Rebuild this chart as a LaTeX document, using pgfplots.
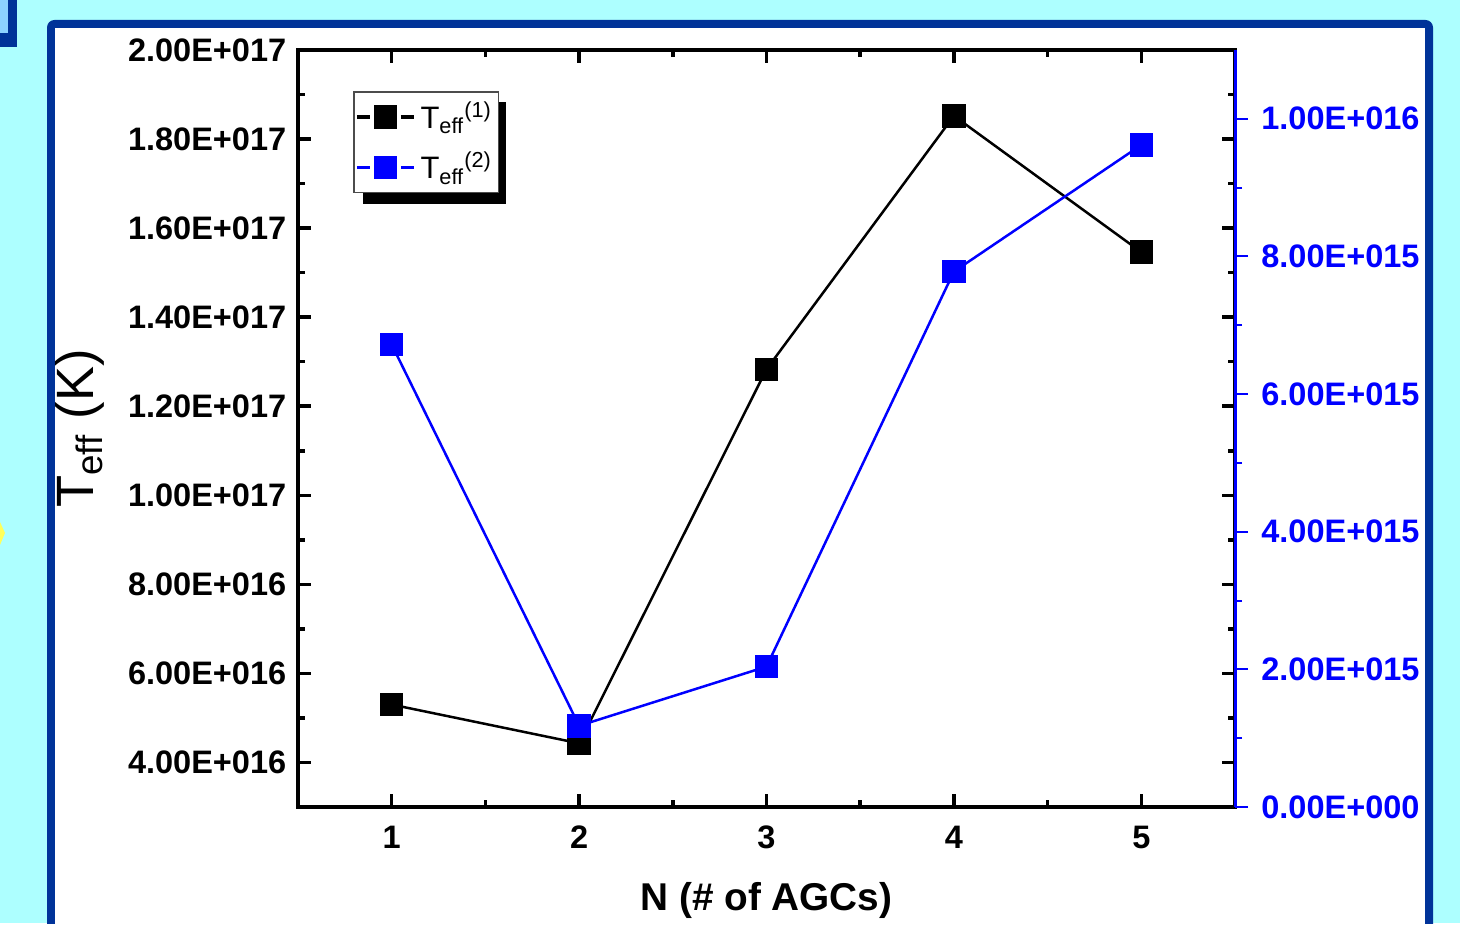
\documentclass[border=0pt]{standalone}
\usepackage{fontspec}
\setmainfont{Liberation Sans}
\usepackage{pgfplots}
\pgfplotsset{compat=1.18}
\definecolor{bgcyan}{RGB}{173,255,255}
\definecolor{framebl}{RGB}{0,51,153}
\definecolor{lightbl}{RGB}{140,210,255}
\definecolor{ylw}{RGB}{255,255,90}
\begin{document}
\begin{tikzpicture}
\begin{scope}[x=0.4pt,y=0.4pt]
\useasboundingbox (0,0) rectangle (1460,923);
\clip (0,0) rectangle (1460,923);
\fill[bgcyan] (0,0) rectangle (1460,923);
\fill[framebl, rounded corners=3] (47,-20) rectangle (1433,903);
\fill[white] (55,-20) rectangle (1425,895);
\fill[framebl] (0,876) rectangle (17,923);
\fill[lightbl] (0,890) rectangle (8,923);
\fill[ylw] (0,401) -- (5,390) -- (0,378) -- cycle;
% legend shadow
\fill[black] (363,719) rectangle (506,821);
\end{scope}

\begin{axis}[
  at={(119.2pt,46.4pt)}, anchor=south west,
  scale only axis, width=374.8pt, height=302.8pt,
  xmin=0.5, xmax=5.5, ymin=3, ymax=20,
  xtick={1,2,3,4,5}, xticklabels={1,2,3,4,5},
  ytick={4,6,...,20},
  yticklabels={4.00E+016,6.00E+016,8.00E+016,1.00E+017,1.20E+017,1.40E+017,1.60E+017,1.80E+017,2.00E+017},
  minor x tick num=1, minor y tick num=1,
  tick align=inside,
  major tick length=5.2pt, minor tick length=2.8pt,
  every tick/.style={black, line width=1.4pt},
  axis line style={line width=1.4pt},
  ticklabel style={font=\fontsize{13}{15}\selectfont\bfseries},
  xticklabel style={yshift=-4pt},
  yticklabel style={xshift=-1.2pt},
  xlabel={N (\# of AGCs)},
  xlabel style={font=\fontsize{15.5}{18}\selectfont\bfseries, at={(axis description cs:0.5,-0.1229)}, anchor=center},
  ylabel={T\textsubscript{eff} (K)},
  ylabel style={font=\fontsize{21}{24}\selectfont, at={(axis description cs:-0.2327,0.5)}, anchor=center},
  legend style={at={(rel axis cs:0.0587,0.9458)}, anchor=north west,
    draw=black!70, line width=0.6pt, fill=white,
    font=\fontsize{12.4}{14}\selectfont, inner xsep=0.5pt, inner ysep=2pt, row sep=4pt},
  legend cell align=left,
  legend image code/.code={
    \draw[#1, line width=1.4pt] (0pt,0pt) -- (5.2pt,0pt);
    \draw[#1, line width=1.4pt] (17.6pt,0pt) -- (22.8pt,0pt);
    \draw[#1, only marks] plot coordinates {(11.4pt,0pt)};
  },
]
\addplot[black, line width=1pt, mark=square*, mark size=4.2pt, mark options={solid, fill=black}]
  coordinates {(1,5.30) (2,4.43) (3,12.83) (4,18.52) (5,15.46)};
\addlegendentry{T\textsubscript{eff}\textsuperscript{(1)}}
\addlegendimage{blue, line width=1pt, mark=square*, mark size=4.2pt, mark options={solid, fill=blue}}
\addlegendentry{T\textsubscript{eff}\textsuperscript{(2)}}
\end{axis}

\begin{axis}[
  at={(119.2pt,46.4pt)}, anchor=south west,
  scale only axis, width=374.8pt, height=302.8pt,
  xmin=0.5, xmax=5.5, ymin=0, ymax=11,
  axis x line=none, axis y line*=right,
  ytick={0,2,...,10},
  yticklabels={0.00E+000,2.00E+015,4.00E+015,6.00E+015,8.00E+015,1.00E+016},
  minor y tick num=1, tick align=outside,
  major tick length=5.2pt, minor tick length=2.8pt,
  every tick/.style={blue, line width=0.8pt},
  y axis line style={blue, line width=1.2pt},
  yticklabel style={blue, font=\fontsize{13}{15}\selectfont\bfseries, xshift=1.8pt},
]
\addplot[blue, line width=1pt, mark=square*, mark size=4.2pt, mark options={solid, fill=blue}]
  coordinates {(1,6.72) (2,1.18) (3,2.04) (4,7.78) (5,9.62)};
\end{axis}
\end{tikzpicture}
\end{document}
